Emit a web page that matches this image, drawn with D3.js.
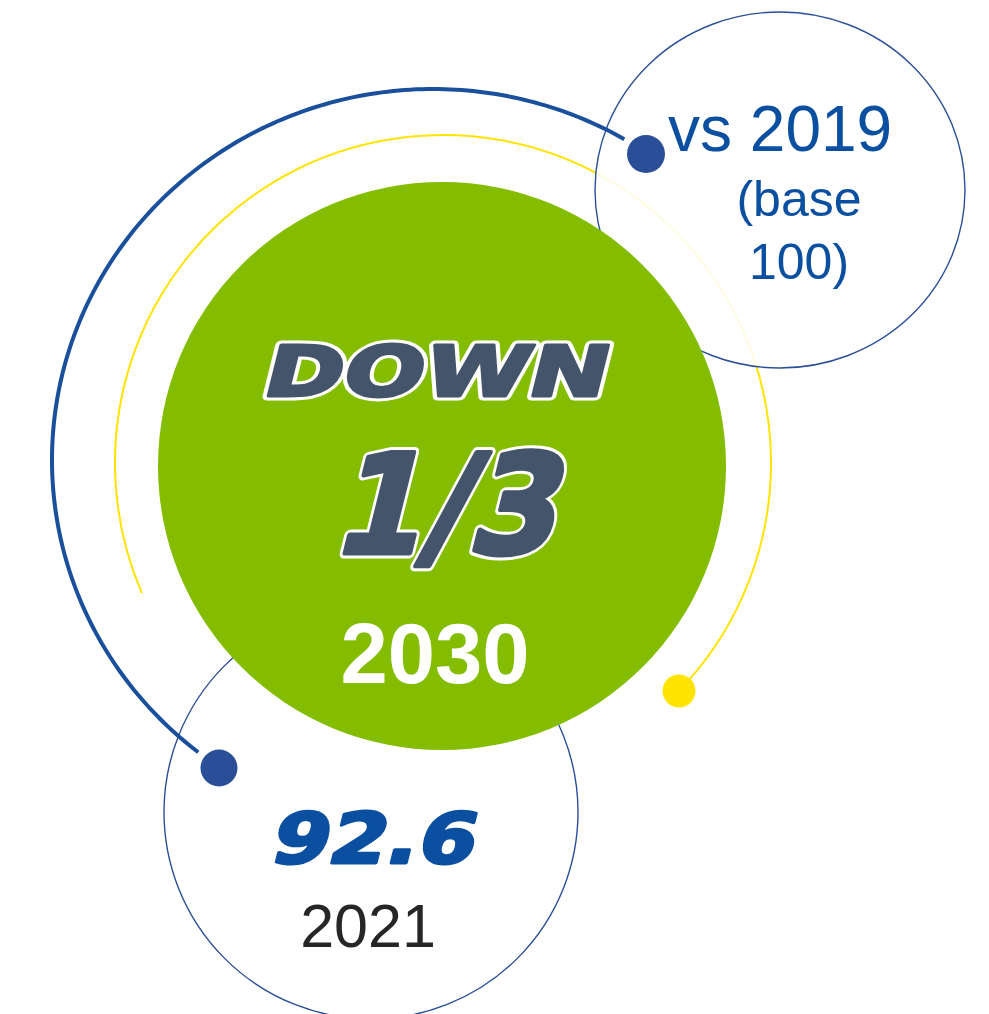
<!DOCTYPE html>
<html>
<head>
<meta charset="utf-8">
<script src="https://cdn.jsdelivr.net/npm/d3@7"></script>
<style>
	html, body { margin: 0; padding: 0; background: #fff; }
	svg { display: block; }
</style>
</head>
<body>
<div id="chart"></div>
<script>
// values shown on the graphic
const headline = ["DOWN", "1/3"];
const targetYear = "2030";
const baseLabel = ["vs 2019", "(base", "100)"];
const currentValue = [92.6];
const currentYear = "2021";

const width = 989, height = 1014;
const blue = "#0b50a0", navy = "#2a4f98", green = "#84bd00", yellow = "#ffe400", slate = "#44546a";

const svg = d3.select("#chart").append("svg")
	.attr("width", width)
	.attr("height", height);

// yellow arc (circle centre 443,463)
const yc = {x: 443, y: 463, r: 328};
const yArc = d3.path();
yArc.arc(yc.x, yc.y, yc.r, Math.atan2(130, -301), Math.atan2(228, 236) + 2 * Math.PI, false);
svg.append("path")
	.attr("d", yArc.toString())
	.attr("fill", "none")
	.attr("stroke", yellow)
	.attr("stroke-width", 2);

// thin circles (top right one veils the yellow line)
svg.append("ellipse")
	.attr("cx", 780).attr("cy", 190).attr("rx", 185).attr("ry", 178)
	.attr("fill", "#fff").attr("fill-opacity", 0.88)
	.attr("stroke", navy).attr("stroke-width", 1.4);

svg.append("circle")
	.attr("cx", 371).attr("cy", 812).attr("r", 207)
	.attr("fill", "none")
	.attr("stroke", navy).attr("stroke-width", 1.4);

// big blue arc - slightly elliptical
const be = {x: 433, y: 460, rx: 381, ry: 371};
const a0 = Math.atan2((138 - be.y) / be.ry, (625 - be.x) / be.rx);
const a1 = Math.atan2((755 - be.y) / be.ry, (196 - be.x) / be.rx);
const steps = d3.range(0, 201).map(i => a0 - (a0 + 2 * Math.PI - a1) * i / 200 + 2 * Math.PI);
svg.append("path")
	.attr("d", d3.line().x(t => be.x + be.rx * Math.cos(t)).y(t => be.y + be.ry * Math.sin(t))(steps))
	.attr("fill", "none")
	.attr("stroke", "#1a4f9c")
	.attr("stroke-width", 4);

// green disc
svg.append("circle")
	.attr("cx", 442).attr("cy", 466).attr("r", 284)
	.attr("fill", green);

// end dots
svg.append("circle").attr("cx", 646).attr("cy", 154).attr("r", 19).attr("fill", navy);
svg.append("circle").attr("cx", 219).attr("cy", 768).attr("r", 18.5).attr("fill", navy);
svg.append("circle").attr("cx", 679).attr("cy", 691).attr("r", 16.5).attr("fill", yellow);

// heavy, slanted text; outline drawn as a wide white stroke underneath
const slanted = (x, y, txt, size, len, fill, weight, outline) => {
	const g = svg.append("g")
		.attr("transform", `translate(${x},${y}) skewX(-14)`);
	const layers = outline ? ["outline", "body"] : ["body"];
	layers.forEach(layer => {
		g.append("text")
			.attr("x", 0).attr("y", 0)
			.attr("font-family", "DejaVu Sans")
			.attr("font-weight", "bold")
			.attr("font-size", size)
			.attr("textLength", len)
			.attr("lengthAdjust", "spacingAndGlyphs")
			.attr("fill", layer == "outline" ? "#fff" : fill)
			.attr("stroke", layer == "outline" ? "#fff" : fill)
			.attr("stroke-width", layer == "outline" ? weight + 6 : weight)
			.attr("stroke-linejoin", "round")
			.text(txt);
	});
};

slanted(260, 396, headline[0], 70, 344, slate, 3, true);
slanted(330, 553, headline[1], 138, 224, slate, 5, true);
slanted(268, 863, d3.format(".1f")(currentValue[0]), 70, 204, blue, 3, false);

svg.append("text")
	.attr("x", 435).attr("y", 683)
	.attr("text-anchor", "middle")
	.attr("font-family", "Liberation Sans, Arial")
	.attr("font-weight", "bold")
	.attr("font-size", 85)
	.attr("fill", "#fff")
	.text(targetYear);

svg.append("text")
	.attr("x", 368).attr("y", 947)
	.attr("text-anchor", "middle")
	.attr("font-family", "Liberation Sans, Arial")
	.attr("font-size", 61)
	.attr("fill", "#262626")
	.text(currentYear);

// label in the top-right circle
const lbl = [{x: 668, y: 151, size: 64, anchor: "start"},
	{x: 799, y: 216, size: 50, anchor: "middle"},
	{x: 799, y: 279, size: 50, anchor: "middle"}];
svg.selectAll("text.base")
	.data(baseLabel)
	.join("text")
	.attr("class", "base")
	.attr("x", (d, i) => lbl[i].x)
	.attr("y", (d, i) => lbl[i].y)
	.attr("text-anchor", (d, i) => lbl[i].anchor)
	.attr("font-family", "Liberation Sans, Arial")
	.attr("font-size", (d, i) => lbl[i].size)
	.attr("fill", blue)
	.text(d => d);
</script>
</body>
</html>
